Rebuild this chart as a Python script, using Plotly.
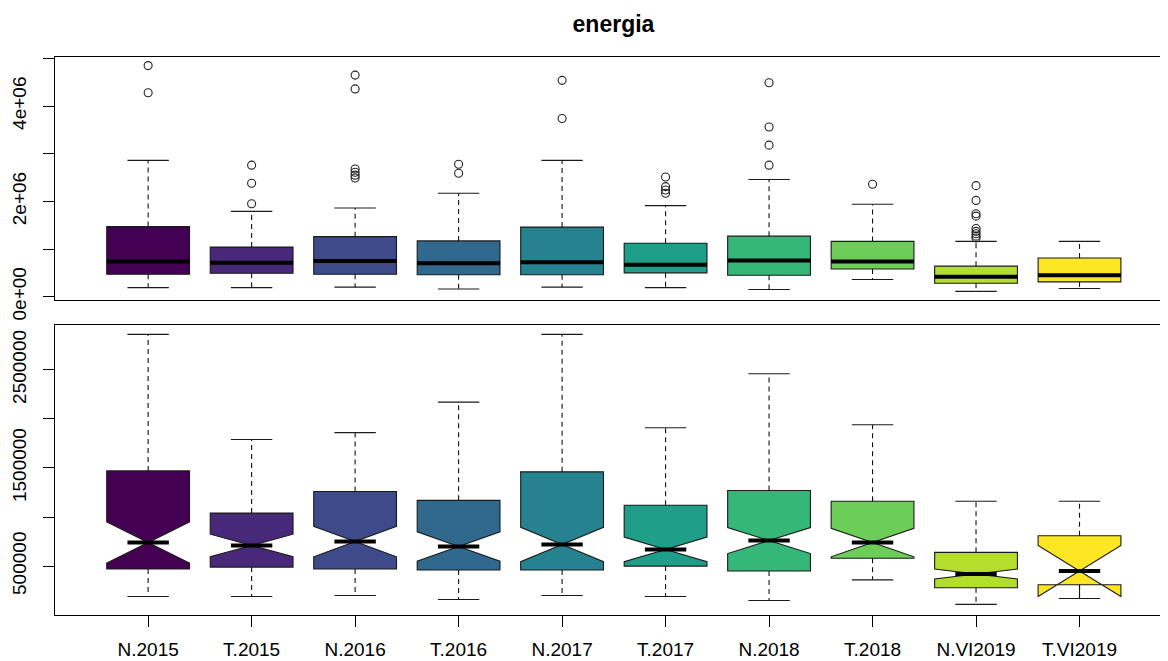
import numpy as np
import plotly.graph_objects as go

# ---------------- data (values in millions) ----------------
categories = ['N.2015', 'T.2015', 'N.2016', 'T.2016', 'N.2017',
              'T.2017', 'N.2018', 'T.2018', 'N.VI2019', 'T.VI2019']
lower_whisker = [0.19, 0.19, 0.20, 0.16, 0.20, 0.19, 0.15, 0.36, 0.11, 0.17]
q1_vals       = [0.47, 0.49, 0.47, 0.46, 0.46, 0.50, 0.45, 0.58, 0.28, 0.31]
median_vals   = [0.74, 0.71, 0.75, 0.70, 0.72, 0.67, 0.76, 0.74, 0.42, 0.45]
q3_vals       = [1.47, 1.04, 1.26, 1.17, 1.46, 1.12, 1.27, 1.16, 0.64, 0.81]
upper_whisker = [2.86, 1.79, 1.86, 2.17, 2.86, 1.91, 2.46, 1.94, 1.16, 1.16]
notch_span    = [0.21, 0.115, 0.155, 0.15, 0.175, 0.125, 0.132, 0.145, 0.051, 0.26]
outliers = [
    [4.85, 4.28],
    [2.76, 2.38, 1.95],
    [4.65, 4.36, 2.68, 2.61, 2.55, 2.49],
    [2.78, 2.59],
    [4.54, 3.74],
    [2.51, 2.31, 2.24, 2.17],
    [4.49, 3.56, 3.18, 2.76],
    [2.36],
    [2.33, 2.02, 1.74, 1.69, 1.43, 1.37, 1.32, 1.27, 1.23],
    [],
]
colors = ['#440154', '#482878', '#3E4A89', '#31688E', '#26828E',
          '#1F9E89', '#35B779', '#6DCD59', '#B4DE2C', '#FDE725']
top_tick_vals = [0, 1e6, 2e6, 3e6, 4e6, 5e6]
top_tick_text = ['0e+00', '', '2e+06', '', '4e+06', '']
bot_tick_vals = [5e5, 1e6, 1.5e6, 2e6, 2.5e6]
bot_tick_text = ['500000', '', '1500000', '', '2500000']
title_text = 'energia'

# ---------------- figure ----------------
SCALE = 1e6
FONT = 'Liberation Sans, Arial, sans-serif'
pos = np.arange(1, len(categories) + 1)
BW = 0.8
edge = '#1a1a1a'

fig = go.Figure()

def seg(xs_pairs, ys_pairs):
    xs, ys = [], []
    for (xa, xb), (ya, yb) in zip(xs_pairs, ys_pairs):
        xs += [xa, xb, None]
        ys += [ya, yb, None]
    return xs, ys

for panel, (xa, ya) in enumerate([('x', 'y'), ('x2', 'y2')]):
    notched = panel == 1
    # whiskers (dashed)
    wx, wy = seg([(p, p) for p in pos] + [(p, p) for p in pos],
                 [(q3_vals[i] * SCALE, upper_whisker[i] * SCALE) for i in range(len(pos))] +
                 [(q1_vals[i] * SCALE, lower_whisker[i] * SCALE) for i in range(len(pos))])
    fig.add_trace(go.Scatter(x=wx, y=wy, mode='lines', xaxis=xa, yaxis=ya,
                             line=dict(color='#111', width=1.1, dash='5px,4px'),
                             hoverinfo='skip', showlegend=False))
    # caps
    cx, cy = seg([(p - BW / 4, p + BW / 4) for p in pos] * 2,
                 [(v * SCALE, v * SCALE) for v in upper_whisker] +
                 [(v * SCALE, v * SCALE) for v in lower_whisker])
    fig.add_trace(go.Scatter(x=cx, y=cy, mode='lines', xaxis=xa, yaxis=ya,
                             line=dict(color=edge, width=1.1),
                             hoverinfo='skip', showlegend=False))
    # boxes
    for i, p in enumerate(pos):
        kw = dict(x=[p], q1=[q1_vals[i] * SCALE], median=[median_vals[i] * SCALE],
                  q3=[q3_vals[i] * SCALE], lowerfence=[q1_vals[i] * SCALE],
                  upperfence=[q3_vals[i] * SCALE], width=BW, whiskerwidth=0,
                  fillcolor=colors[i], line=dict(color=edge, width=1.1),
                  boxpoints=False, xaxis=xa, yaxis=ya, showlegend=False,
                  name=categories[i])
        if notched:
            kw.update(notched=True, notchspan=[notch_span[i] * SCALE], notchwidth=0.5)
        fig.add_trace(go.Box(**kw))
    # medians (thick)
    half = BW / 4 if notched else BW / 2
    mx, my = seg([(p - half, p + half) for p in pos],
                 [(v * SCALE, v * SCALE) for v in median_vals])
    fig.add_trace(go.Scatter(x=mx, y=my, mode='lines', xaxis=xa, yaxis=ya,
                             line=dict(color='black', width=4),
                             hoverinfo='skip', showlegend=False))
    # outliers only in top panel
    if not notched:
        ox, oy = [], []
        for i, p in enumerate(pos):
            for v in outliers[i]:
                ox.append(p)
                oy.append(v * SCALE)
        fig.add_trace(go.Scatter(x=ox, y=oy, mode='markers', xaxis=xa, yaxis=ya,
                                 marker=dict(symbol='circle-open', size=8,
                                             color='#222', line=dict(width=1.1, color='#222')),
                                 hoverinfo='skip', showlegend=False))

# The page body has an 8px margin, so the figure is placed at (8, 8).
OFF = 8
W, H = 1168 - OFF, 661 - OFF
xrange_ = [0.1, 10.855]
axis_common = dict(showgrid=False, zeroline=False, showline=True,
                   linecolor='black', linewidth=1, automargin=False)
fig.update_layout(
    width=W, height=H,
    margin=dict(l=55 - OFF, r=0, t=0, b=0),
    paper_bgcolor='white', plot_bgcolor='white',
    font=dict(family=FONT, size=19, color='black'),
    boxmode='overlay',
    title=dict(text='<b>' + title_text + '</b>', x=(613.5 - OFF) / W, xref='container',
               xanchor='center', y=1 - (24 - OFF) / H, yref='container', yanchor='middle',
               font=dict(family=FONT, size=23, color='black'),
               automargin=False),
    xaxis=dict(anchor='y', domain=[0, 1], range=xrange_, mirror=True,
               showticklabels=False, ticks='', **axis_common),
    yaxis=dict(anchor='x', domain=[(H - (300 - OFF)) / H, (H - (57 - OFF)) / H],
               range=[-0.07e6, 5.03e6], tickvals=top_tick_vals, ticktext=top_tick_text,
               tickangle=-90, ticks='outside', ticklen=11, tickcolor='black',
               ticklabelstandoff=9, **axis_common),
    xaxis2=dict(anchor='y2', domain=[0, 1], range=xrange_, mirror=True,
                tickvals=list(pos), ticktext=categories, ticks='outside',
                ticklen=11, tickcolor='black', ticklabelstandoff=6, **axis_common),
    yaxis2=dict(anchor='x2', domain=[(H - (615 - OFF)) / H, (H - (325 - OFF)) / H],
                range=[0.002e6, 2.956e6], tickvals=bot_tick_vals, ticktext=bot_tick_text,
                tickangle=-90, ticks='outside', ticklen=11, tickcolor='black',
                ticklabelstandoff=9, **axis_common),
)

fig.write_html('out.html')
